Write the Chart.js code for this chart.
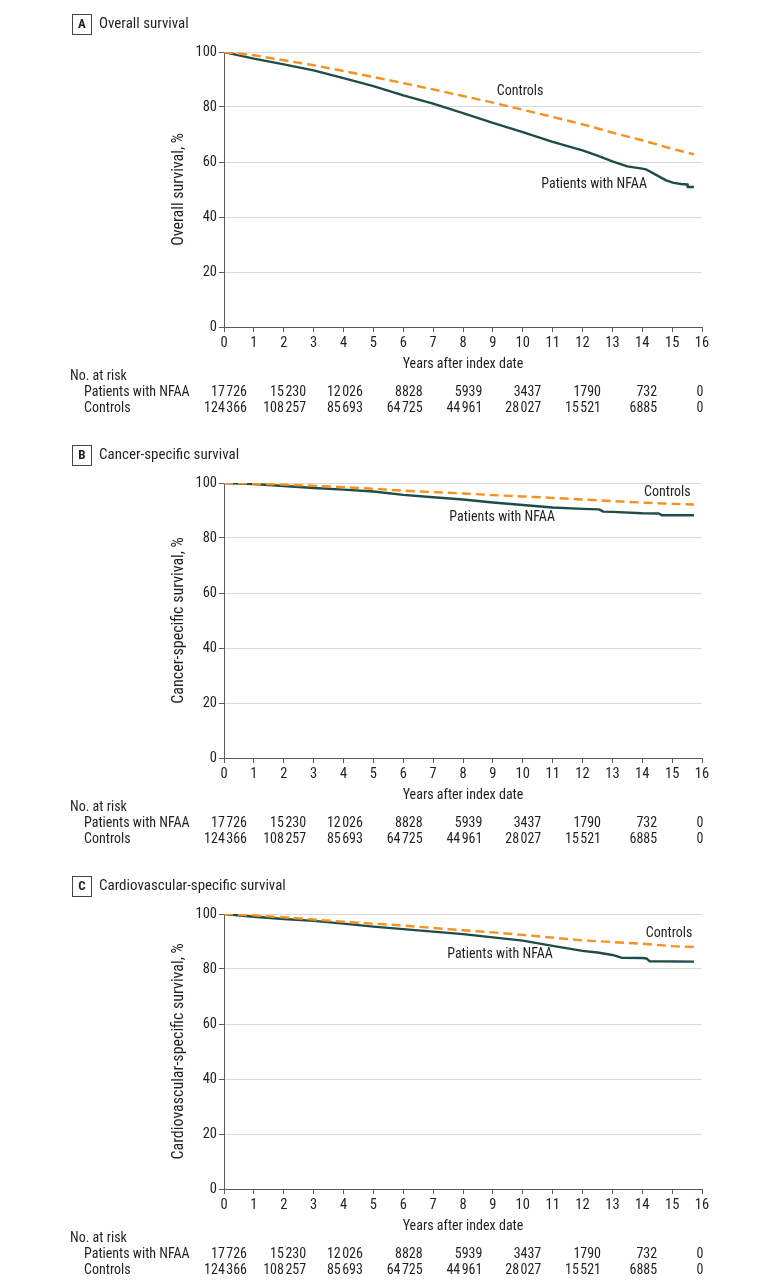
<!DOCTYPE html>
<html>
<head>
<meta charset="utf-8">
<script src="https://cdn.jsdelivr.net/npm/chart.js@4.4.1/dist/chart.umd.min.js"></script>
<style>
  html, body { margin: 0; padding: 0; background: #fff; }
  body { width: 780px; height: 1288px; position: relative; overflow: hidden; }
  .panel { position: absolute; left: 0; width: 780px; height: 431px; }
</style>
</head>
<body>
<div class="panel" style="top:0"><canvas id="chart-a" width="780" height="431"></canvas></div>
<div class="panel" style="top:431px"><canvas id="chart-b" width="780" height="431"></canvas></div>
<div class="panel" style="top:862px"><canvas id="chart-c" width="780" height="431"></canvas></div>
<script>
// Overall survival (A)
const osPatientYears = [0, 0.5, 1, 2, 3, 4, 5, 6, 7, 8, 9, 10, 11, 12, 12.5, 13, 13.5, 14, 14.15, 14.6, 14.8, 15.05, 15.3, 15.5, 15.52, 15.73];
const osPatientSurv = [100, 98.8, 97.6, 95.5, 93.3, 90.5, 87.6, 84.2, 81.2, 77.8, 74.2, 70.9, 67.3, 64.2, 62.3, 60.2, 58.4, 57.6, 57.2, 54.5, 53.3, 52.4, 52.0, 51.8, 50.9, 50.9];
const osControlYears = [0, 1, 2, 3, 4, 5, 6, 7, 8, 9, 10, 11, 12, 13, 14, 15, 15.73];
const osControlSurv = [100, 98.8, 97.0, 95.2, 93.1, 90.9, 88.7, 86.4, 84.0, 81.6, 79.0, 76.4, 73.7, 70.7, 67.9, 64.8, 62.8];

// Cancer-specific survival (B)
const cssPatientYears = [0, 1, 2, 3, 4, 5, 6, 7, 8, 9, 10, 11, 12, 12.55, 12.7, 13, 14, 14.55, 14.65, 15.73];
const cssPatientSurv = [100, 99.6, 98.9, 98.2, 97.6, 96.9, 95.7, 94.8, 94.0, 92.9, 92.0, 91.1, 90.6, 90.4, 89.6, 89.5, 89.0, 88.9, 88.3, 88.3];
const cssControlYears = [0, 1, 2, 3, 4, 5, 6, 7, 8, 9, 10, 11, 12, 13, 14, 15, 15.73];
const cssControlSurv = [100, 99.8, 99.4, 99.0, 98.5, 97.9, 97.2, 96.7, 96.2, 95.6, 95.1, 94.6, 94.0, 93.4, 92.9, 92.4, 92.2];

// Cardiovascular-specific survival (C)
const cvsPatientYears = [0, 1, 2, 3, 4, 5, 6, 7, 8, 9, 10, 11, 12, 12.5, 13, 13.3, 14, 14.15, 14.25, 15.73];
const cvsPatientSurv = [100, 99.0, 98.2, 97.5, 96.5, 95.4, 94.5, 93.6, 92.7, 91.5, 90.3, 88.4, 86.6, 86.0, 85.1, 84.1, 84.0, 83.8, 82.8, 82.7];
const cvsControlYears = [0, 1, 2, 3, 4, 5, 6, 7, 8, 9, 10, 11, 12, 13, 14, 15, 15.73];
const cvsControlSurv = [100, 99.5, 98.8, 98.0, 97.2, 96.5, 95.8, 94.9, 94.1, 93.3, 92.4, 91.4, 90.4, 89.8, 89.2, 88.3, 88.0];

// No. at risk, every 2 years from 0 to 16
const atRiskYears = [0, 2, 4, 6, 8, 10, 12, 14, 16];
const atRiskPatients = [17726, 15230, 12026, 8828, 5939, 3437, 1790, 732, 0];
const atRiskControls = [124366, 108257, 85693, 64725, 44961, 28027, 15521, 6885, 0];

const TEXT = "#231f20";
const AXIS = "#5a5a5a";
const GRID = "#d9d9d9";
const ORANGE = "#f7901e";
const TEAL = "#1f4c4b";

// right edge of each at-risk column, in years on the x scale
const atRiskEdge = [0.77, 2.75, 4.65, 6.65, 8.65, 10.62, 12.62, 14.5, 16.05];

// the original uses a condensed face; take the first narrow family that is installed
function pickFamily() {
  const c = document.createElement("canvas").getContext("2d");
  const probe = "Patients with NFAA 0123456789";
  c.font = "15px monospace";
  const base = c.measureText(probe).width;
  for (const f of ["Roboto Condensed", "Liberation Sans Narrow", "DejaVu Sans Condensed"]) {
    c.font = `15px '${f}', monospace`;
    if (Math.abs(c.measureText(probe).width - base) > 0.5) return f;
  }
  return "Roboto";
}
const FAMILY = pickFamily();
const FONT = `'${FAMILY}', Roboto, sans-serif`;
const SIZE = (() => {
  const c = document.createElement("canvas").getContext("2d");
  c.font = `15px ${FONT}`;
  const w = c.measureText("Patients with NFAA").width;
  return Math.max(12, Math.min(16, Math.round((15 * 104) / w * 2) / 2));
})();

Chart.defaults.font.family = FONT;
Chart.defaults.font.size = SIZE;
Chart.defaults.color = TEXT;

const toPoints = (xs, ys) => xs.map((x, i) => ({ x, y: ys[i] }));
const fmt = (n) => (n >= 10000 ? String(n).replace(/(\d+)(\d{3})$/, "$1\u200a$2") : String(n));

const panels = [
  {
    id: "chart-a", letter: "A", title: "Overall survival", yTitle: "Overall survival, %",
    patients: toPoints(osPatientYears, osPatientSurv), controls: toPoints(osControlYears, osControlSurv),
    controlsLabel: [9.91, 85.5], patientsLabel: [12.39, 51.8],
  },
  {
    id: "chart-b", letter: "B", title: "Cancer-specific survival", yTitle: "Cancer-specific survival, %",
    patients: toPoints(cssPatientYears, cssPatientSurv), controls: toPoints(cssControlYears, cssControlSurv),
    controlsLabel: [14.84, 96.5], patientsLabel: [9.31, 87.5],
  },
  {
    id: "chart-c", letter: "C", title: "Cardiovascular-specific survival", yTitle: "Cardiovascular-specific survival, %",
    patients: toPoints(cvsPatientYears, cvsPatientSurv), controls: toPoints(cvsControlYears, cvsControlSurv),
    controlsLabel: [14.9, 93.0], patientsLabel: [9.24, 85.1],
  },
];

// header box, curve labels and the at-risk table
const panelExtras = {
  id: "panelExtras",
  afterDraw(chart, args, opts) {
    const { ctx } = chart;
    const xs = chart.scales.x;
    const ys = chart.scales.y;
    ctx.save();
    ctx.fillStyle = TEXT;
    ctx.textBaseline = "middle";

    ctx.strokeStyle = "#444";
    ctx.lineWidth = 1;
    ctx.strokeRect(72.5, 14.5, 19, 20);
    ctx.font = `bold ${SIZE - 1}px ${FONT}`;
    ctx.textAlign = "center";
    ctx.fillText(opts.letter, 82, 25);
    ctx.font = `${SIZE + 1}px ${FONT}`;
    ctx.textAlign = "left";
    ctx.fillText(opts.title, 99, 24.5);

    ctx.font = `${SIZE}px ${FONT}`;
    ctx.textAlign = "center";
    ctx.fillText("Controls", xs.getPixelForValue(opts.controlsLabel[0]), ys.getPixelForValue(opts.controlsLabel[1]));
    ctx.fillText("Patients with NFAA", xs.getPixelForValue(opts.patientsLabel[0]), ys.getPixelForValue(opts.patientsLabel[1]));

    ctx.textAlign = "left";
    ctx.fillText("No. at risk", 70, 376);
    ctx.fillText("Patients with NFAA", 84, 392);
    ctx.fillText("Controls", 84, 408);
    ctx.textAlign = "right";
    atRiskYears.forEach((yr, i) => {
      const px = xs.getPixelForValue(atRiskEdge[i]);
      ctx.fillText(fmt(atRiskPatients[i]), px, 392);
      ctx.fillText(fmt(atRiskControls[i]), px, 408);
    });
    ctx.restore();
  },
};

panels.forEach((p) => {
  new Chart(document.getElementById(p.id), {
    type: "line",
    data: {
      datasets: [
        {
          label: "Controls",
          data: p.controls,
          borderColor: ORANGE,
          borderWidth: 2.4,
          borderDash: [9, 5],
          borderJoinStyle: "round",
          pointRadius: 0,
          tension: 0,
        },
        {
          label: "Patients with NFAA",
          data: p.patients,
          borderColor: TEAL,
          borderWidth: 2.4,
          borderJoinStyle: "round",
          pointRadius: 0,
          tension: 0,
        },
      ],
    },
    options: {
      responsive: false,
      animation: false,
      layout: { padding: { left: 160, right: 78, top: 52, bottom: 0 } },
      scales: {
        x: {
          type: "linear",
          min: 0,
          max: 16,
          ticks: { stepSize: 1, padding: 3, color: TEXT, font: { size: SIZE + 0.5 } },
          grid: { drawOnChartArea: false, tickLength: 5, tickColor: AXIS },
          border: { color: AXIS, width: 1 },
          title: { display: true, text: "Years after index date", color: TEXT, padding: { top: 0, bottom: 58 } },
          afterFit: (s) => { s.height = 104; },
        },
        y: {
          min: 0,
          max: 100,
          ticks: { stepSize: 20, padding: 2, color: TEXT, font: { size: SIZE + 0.5 } },
          grid: {
            color: (c) => (c.tick && c.tick.value === 0 ? "rgba(0,0,0,0)" : GRID),
            tickLength: 5,
            tickColor: AXIS,
          },
          border: { color: AXIS, width: 1 },
          title: { display: true, text: p.yTitle, color: TEXT, font: { size: SIZE + 2 }, padding: { top: 9, bottom: 0 } },
          afterFit: (s) => { s.width = 64; },
        },
      },
      plugins: {
        legend: { display: false },
        tooltip: { enabled: false },
        panelExtras: { letter: p.letter, title: p.title, controlsLabel: p.controlsLabel, patientsLabel: p.patientsLabel },
      },
    },
    plugins: [panelExtras],
  });
});
</script>
</body>
</html>
